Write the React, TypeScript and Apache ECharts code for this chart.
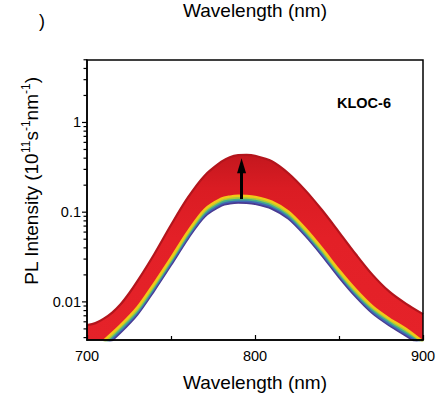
import React, { useEffect, useRef } from 'react';
import * as echarts from 'echarts';

// ---- data ----
const xTicks = [700, 800, 900];
const yDecades = [0.01, 0.1, 1];
const yTickValues = [
  0.004, 0.005, 0.006, 0.007, 0.008, 0.009,
  0.01, 0.02, 0.03, 0.04, 0.05, 0.06, 0.07, 0.08, 0.09,
  0.1, 0.2, 0.3, 0.4, 0.5, 0.6, 0.7, 0.8, 0.9,
  1, 2, 3, 4, 5,
];

// highest (red) spectrum
const topRed: [number, number][] = [
  [700, 0.0055], [705, 0.0058], [710, 0.0065], [715, 0.0076], [720, 0.0094], [725, 0.0124],
  [730, 0.017], [740, 0.034], [750, 0.072], [760, 0.145], [770, 0.255], [780, 0.365],
  [785, 0.41], [790, 0.432], [795, 0.435], [800, 0.425], [810, 0.37], [820, 0.27],
  [830, 0.175], [840, 0.105], [850, 0.06], [860, 0.034], [870, 0.02], [880, 0.013],
  [890, 0.0095], [900, 0.0073],
];
// lowest spectra (violet -> yellow)
const violet: [number, number][] = [
  [710, 0.0031], [720, 0.0046], [730, 0.0073], [740, 0.0135], [750, 0.026], [760, 0.051],
  [770, 0.09], [780, 0.119], [785, 0.1255], [790, 0.128], [795, 0.1275], [800, 0.1245],
  [810, 0.11], [820, 0.085], [830, 0.055], [840, 0.033], [850, 0.019], [860, 0.0115],
  [870, 0.0075], [880, 0.0055], [890, 0.0042], [900, 0.0032],
];
const blue: [number, number][] = [
  [710, 0.0032], [720, 0.0048], [730, 0.0076], [740, 0.0141], [750, 0.0272], [760, 0.0533],
  [770, 0.094], [780, 0.1244], [785, 0.1311], [790, 0.1337], [795, 0.1332], [800, 0.1301],
  [810, 0.115], [820, 0.0888], [830, 0.0575], [840, 0.0345], [850, 0.0199], [860, 0.012],
  [870, 0.0078], [880, 0.0057], [890, 0.0044], [900, 0.0033],
];
const green: [number, number][] = [
  [710, 0.0034], [720, 0.005], [730, 0.0079], [740, 0.0147], [750, 0.0284], [760, 0.0556],
  [770, 0.098], [780, 0.1297], [785, 0.1368], [790, 0.1395], [795, 0.139], [800, 0.1357],
  [810, 0.12], [820, 0.0927], [830, 0.06], [840, 0.036], [850, 0.0207], [860, 0.0125],
  [870, 0.0082], [880, 0.006], [890, 0.0046], [900, 0.0035],
];
const lime: [number, number][] = [
  [710, 0.0035], [720, 0.0053], [730, 0.0083], [740, 0.0154], [750, 0.0296], [760, 0.0581],
  [770, 0.1026], [780, 0.1357], [785, 0.1431], [790, 0.1459], [795, 0.1454], [800, 0.1419],
  [810, 0.1254], [820, 0.0969], [830, 0.0627], [840, 0.0376], [850, 0.0217], [860, 0.0131],
  [870, 0.0086], [880, 0.0063], [890, 0.0048], [900, 0.0036],
];
const yellow: [number, number][] = [
  [710, 0.0037], [720, 0.0055], [730, 0.0087], [740, 0.0161], [750, 0.0309], [760, 0.0607],
  [770, 0.1071], [780, 0.1416], [785, 0.1493], [790, 0.1523], [795, 0.1517], [800, 0.1482],
  [810, 0.1309], [820, 0.1012], [830, 0.0655], [840, 0.0393], [850, 0.0226], [860, 0.0137],
  [870, 0.0089], [880, 0.0065], [890, 0.005], [900, 0.0036],
];
const arrowStart: [number, number] = [792, 0.14];
const arrowEnd: [number, number] = [792, 0.33];
const sampleLabel = 'KLOC-6';
const arrowLabel = 'V';

const FONT = "'Liberation Sans', Arial, Helvetica, sans-serif";

export default function App() {
  const ref = useRef<HTMLDivElement>(null);
  useEffect(() => {
    if (!ref.current) return;
    const chart = echarts.init(ref.current, undefined, { renderer: 'svg' });
    const lineSeries = (name: string, data: [number, number][], color: string, width: number, extra: any = {}) => ({
      name,
      type: 'line',
      data,
      smooth: 0.3,
      showSymbol: false,
      symbol: 'none',
      lineStyle: { color, width },
      silent: true,
      ...extra,
    });
    chart.setOption({
      animation: false,
      grid: {
        left: 87, right: 17, top: 60, bottom: 54,
        show: true, borderColor: '#000', borderWidth: 1.5,
        backgroundColor: 'transparent', z: 10,
      },
      xAxis: {
        type: 'value', min: xTicks[0], max: xTicks[xTicks.length - 1], interval: 100,
        z: 10,
        axisLine: { show: true, lineStyle: { color: '#000', width: 1.5 } },
        axisTick: { show: true, inside: true, length: 5, lineStyle: { color: '#000', width: 1.2 } },
        minorTick: { show: true, splitNumber: 2, length: 4, lineStyle: { color: '#000', width: 1.2 } },
        splitLine: { show: false },
        axisLabel: { color: '#000', fontSize: 14.5, fontFamily: FONT, margin: 8 },
      },
      yAxis: {
        type: 'log', logBase: 10, min: 0.00376, max: 4.97,
        z: 10,
        axisLine: { show: true, lineStyle: { color: '#000', width: 1.5 } },
        axisTick: { show: false },
        splitLine: { show: false },
        axisLabel: {
          color: '#000', fontSize: 14.5, fontFamily: FONT, margin: 6,
          formatter: (v: number) => {
            const lg = Math.log10(v);
            const e = Math.round(lg);
            if (Math.abs(lg - e) > 1e-6) return '';
            const d = yDecades.find((t) => Math.abs(Math.log10(t) - e) < 1e-6);
            if (d === undefined) return '';
            return e >= 0 ? String(Math.pow(10, e)) : Math.pow(10, e).toFixed(-e);
          },
        },
      },
      series: [
        lineSeries('top', topRed, '#b3151c', 2.2, {
          areaStyle: {
            opacity: 1, origin: 'start',
            color: new echarts.graphic.LinearGradient(0, 0, 0, 1, [
              { offset: 0, color: '#c4171e' },
              { offset: 0.18, color: '#da1c23' },
              { offset: 0.45, color: '#e32027' },
              { offset: 1, color: '#e52229' },
            ]),
          },
        }),
        lineSeries('violet', violet, '#4a3a92', 2.6, {
          areaStyle: { color: '#ffffff', opacity: 1, origin: 'start' },
        }),
        lineSeries('blue', blue, '#3f66b5', 2.4),
        lineSeries('green', green, '#46ad8c', 2.4),
        lineSeries('lime', lime, '#a6cc3c', 2.4),
        lineSeries('yellow', yellow, '#f2c818', 2.4, {
          markLine: {
            silent: true,
            symbol: ['none', 'triangle'],
            symbolSize: [9, 15],
            lineStyle: { color: '#000', width: 3, type: 'solid' },
            label: { show: false },
            data: [[{ coord: arrowStart }, { coord: arrowEnd }]],
          },
        }),
        {
          type: 'custom',
          name: 'yticks',
          silent: true,
          clip: false,
          z: 11,
          data: yTickValues.map((v) => [xTicks[0], v]),
          renderItem: (params: any, api: any) => {
            const v = api.value(1);
            const p = api.coord([api.value(0), v]);
            const major = yDecades.some((d) => Math.abs(d - v) < 1e-9);
            const len = major ? 5 : 3.5;
            return {
              type: 'line',
              shape: { x1: p[0] - len, y1: p[1], x2: p[0], y2: p[1] },
              style: { stroke: '#000', lineWidth: 1.2 },
            };
          },
        },
      ],
      graphic: [
        {
          type: 'text', x: 364, y: 103,
          style: { text: sampleLabel, fontSize: 14.5, fontWeight: 'bold', fontFamily: FONT, fill: '#000', align: 'center', verticalAlign: 'middle' },
        },
        {
          type: 'text', x: 242, y: 228,
          style: { text: arrowLabel, fontSize: 13, fontWeight: 'bold', fontFamily: FONT, fill: '#000', align: 'center', verticalAlign: 'middle' },
        },
        {
          type: 'text', x: 255, y: 382,
          style: { text: 'Wavelength (nm)', fontSize: 19, fontFamily: FONT, fill: '#000', align: 'center', verticalAlign: 'middle' },
        },
        {
          type: 'text', x: 255, y: 10,
          style: { text: 'Wavelength (nm)', fontSize: 19, fontFamily: FONT, fill: '#000', align: 'center', verticalAlign: 'middle' },
        },
        {
          type: 'text', x: 42, y: 21,
          style: { text: ')', fontSize: 18, fontFamily: FONT, fill: '#000', align: 'center', verticalAlign: 'middle' },
        },
        {
          type: 'text', x: 31, y: 181, rotation: Math.PI / 2,
          style: {
            text: '{a|PL Intensity (10}{s|11}{a|s}{s|-1}{a|nm}{s|-1}{a|)}',
            align: 'center', verticalAlign: 'middle',
            rich: {
              a: { fontSize: 19, fontFamily: FONT, fill: '#000', lineHeight: 22 },
              s: { fontSize: 12, fontFamily: FONT, fill: '#000', lineHeight: 12, verticalAlign: 'top' },
            },
          },
        },
      ],
    });
    return () => chart.dispose();
  }, []);
  return <div ref={ref} style={{ width: 440, height: 394, position: 'absolute', left: 0, top: 0 }} />;
}
